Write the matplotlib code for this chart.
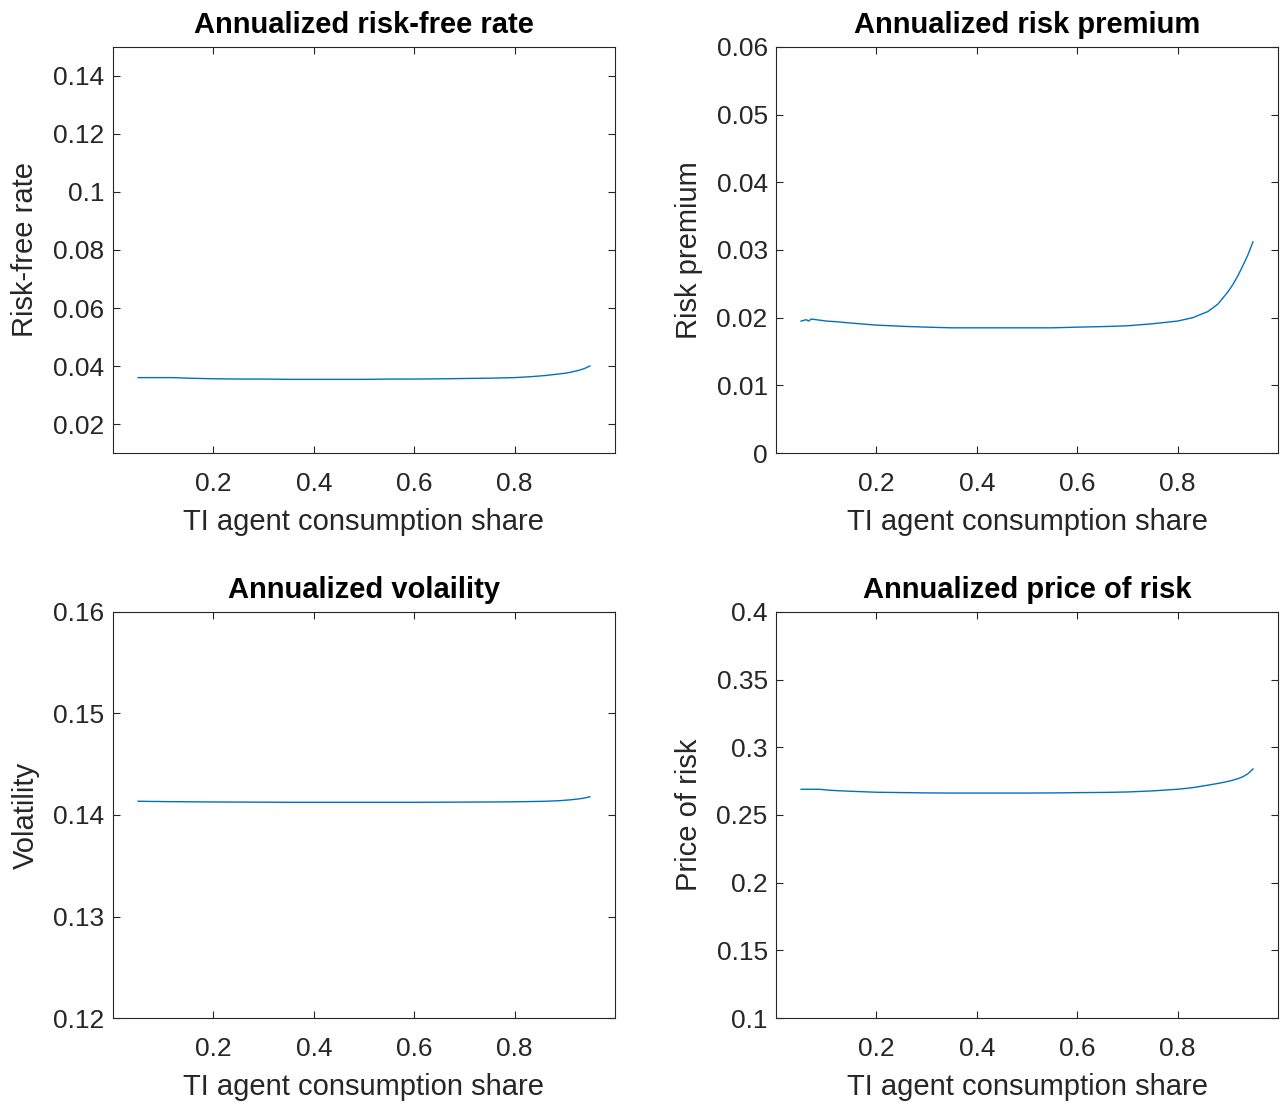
import matplotlib
matplotlib.use("Agg")
from matplotlib import pyplot as plt
from matplotlib.ticker import FuncFormatter

plt.rcParams['font.family'] = ['Liberation Sans', 'DejaVu Sans']

# Consumption share grid
share = [0.05, 0.06, 0.065, 0.07, 0.08, 0.09, 0.10, 0.12, 0.15, 0.20, 0.26, 0.30, 0.35,
         0.40, 0.46, 0.50, 0.55, 0.60, 0.66, 0.70, 0.75, 0.80, 0.83, 0.86, 0.88,
         0.89, 0.90, 0.91, 0.92, 0.93, 0.94, 0.95]

risk_free = [0.0360, 0.0360, 0.0360, 0.0360, 0.0360, 0.0360, 0.0360, 0.0360, 0.0358, 0.0356,
             0.0355, 0.0355, 0.0354, 0.0354, 0.0354, 0.0354, 0.0355, 0.0355, 0.0356, 0.0357,
             0.0358, 0.0360, 0.0363, 0.0367, 0.0371, 0.0373, 0.0375, 0.0378, 0.0382, 0.0386,
             0.0392, 0.0400]

risk_premium = [0.0195, 0.0197, 0.0195, 0.0198, 0.0197, 0.0196, 0.0195, 0.0194, 0.0192, 0.0189,
                0.0187, 0.0186, 0.0185, 0.0185, 0.0185, 0.0185, 0.0185, 0.0186, 0.0187, 0.0188,
                0.0191, 0.0195, 0.0200, 0.0209, 0.0220, 0.0229, 0.0238, 0.0249, 0.0262, 0.0277,
                0.0293, 0.0312]

volatility = [0.14135, 0.14135, 0.14134, 0.14134, 0.14133, 0.14133, 0.14132, 0.14131, 0.14130, 0.14128,
              0.14127, 0.14126, 0.14125, 0.14125, 0.14125, 0.14125, 0.14125, 0.14125, 0.14126, 0.14127,
              0.14128, 0.14130, 0.14132, 0.14135, 0.14139, 0.14141, 0.14145, 0.14149, 0.14154, 0.14160,
              0.14168, 0.14180]

price_of_risk = [0.2690, 0.2690, 0.2690, 0.2690, 0.2690, 0.2689, 0.2685, 0.2680, 0.2675, 0.2668,
                 0.2665, 0.2663, 0.2662, 0.2662, 0.2662, 0.2662, 0.2663, 0.2665, 0.2667, 0.2670,
                 0.2678, 0.2690, 0.2702, 0.2720, 0.2733, 0.2740, 0.2748, 0.2757, 0.2768, 0.2783,
                 0.2805, 0.2840]

panels = [
    ('Annualized risk-free rate', 'Risk-free rate', risk_free, (0.01, 0.15),
     [0.02, 0.04, 0.06, 0.08, 0.10, 0.12, 0.14]),
    ('Annualized risk premium', 'Risk premium', risk_premium, (0.0, 0.06),
     [0, 0.01, 0.02, 0.03, 0.04, 0.05, 0.06]),
    ('Annualized volaility', 'Volatility', volatility, (0.12, 0.16),
     [0.12, 0.13, 0.14, 0.15, 0.16]),
    ('Annualized price of risk', 'Price of risk', price_of_risk, (0.1, 0.4),
     [0.1, 0.15, 0.2, 0.25, 0.3, 0.35, 0.4]),
]

# Axes rectangles in figure fractions (left, bottom, width, height)
lefts = [0.0877, 0.6025]
bottoms = [0.5889, 0.0762]
w, h = 0.3898, 0.3685

fig = plt.figure(figsize=(12.88, 11.02), dpi=100)
gray = '#262626'
fmt = FuncFormatter(lambda v, p: ('%g' % round(v, 4)))

for i, (title, ylab, vals, ylim, yt) in enumerate(panels):
    ax = fig.add_axes([lefts[i % 2], bottoms[i // 2], w, h])
    ax.plot(share, vals, color='#0072BD', lw=1.0)
    ax.set_xlim(0, 1)
    ax.set_ylim(*ylim)
    ax.set_xticks([0.2, 0.4, 0.6, 0.8])
    ax.set_yticks(yt)
    ax.xaxis.set_major_formatter(fmt)
    ax.yaxis.set_major_formatter(fmt)
    ax.tick_params(direction='in', top=True, right=True, length=5, width=0.8,
                   colors=gray, labelsize=19, pad=6)
    ax.tick_params(axis='x', pad=14)
    for s in ax.spines.values():
        s.set_color(gray)
        s.set_linewidth(0.8)
    ax.set_title(title, fontsize=21, fontweight='bold', pad=10)
    ax.set_xlabel('TI agent consumption share', fontsize=21, color=gray, labelpad=8.5)
    ax.set_ylabel(ylab, fontsize=21, color=gray, labelpad=10)

fig.savefig('out.png', dpi=100)
